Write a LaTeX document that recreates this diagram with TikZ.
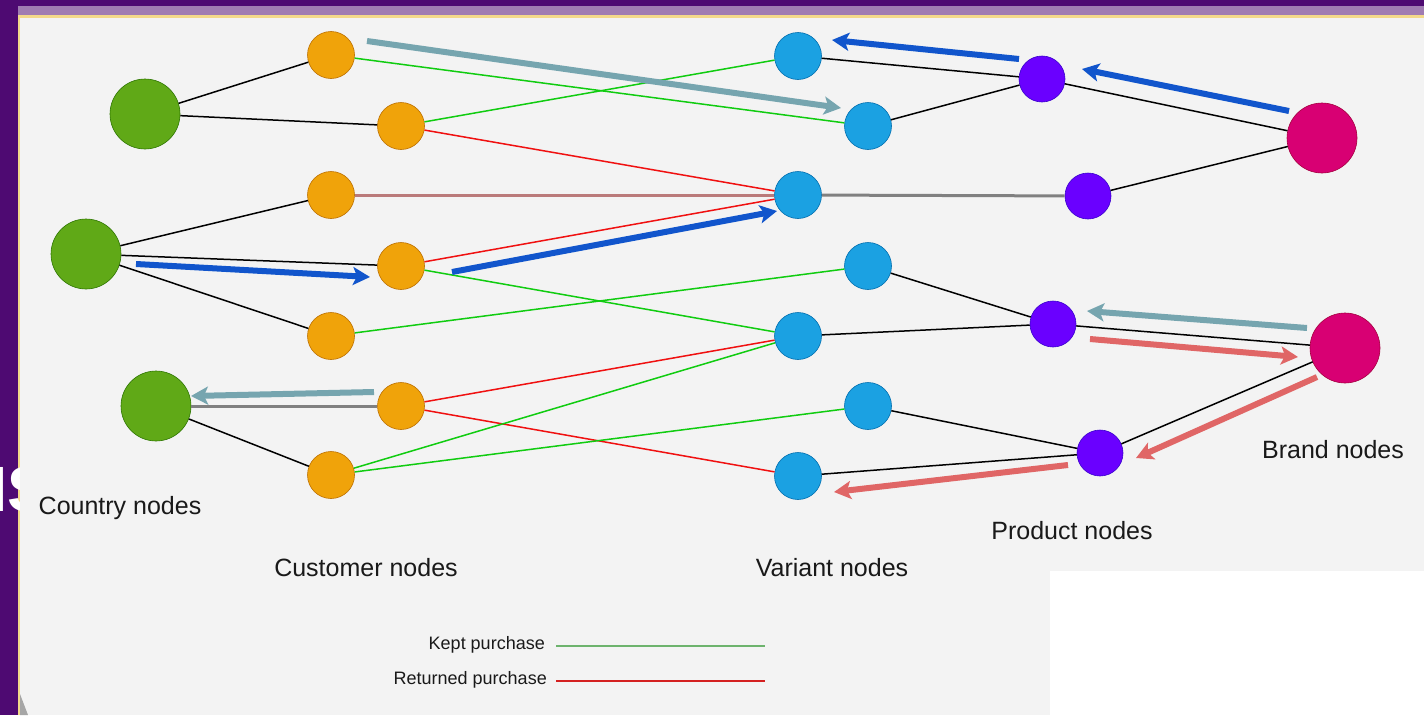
\documentclass[tikz,border=0pt]{standalone}
\usepackage{fontspec}
\setmainfont{Liberation Sans}
\usetikzlibrary{arrows.meta}
\definecolor{framedark}{HTML}{4E0A72}
\definecolor{framelight}{HTML}{A07CB2}
\definecolor{frameyellow}{HTML}{F3D98A}
\definecolor{bggray}{HTML}{F3F3F3}
\definecolor{cgreen}{HTML}{60A917}
\definecolor{cgreenD}{HTML}{2D7600}
\definecolor{corange}{HTML}{F0A30A}
\definecolor{corangeD}{HTML}{BD7000}
\definecolor{cblue}{HTML}{1BA1E2}
\definecolor{cblueD}{HTML}{006EAF}
\definecolor{cpurple}{HTML}{6A00FF}
\definecolor{cpurpleD}{HTML}{3700CC}
\definecolor{cmag}{HTML}{D80073}
\definecolor{cmagD}{HTML}{A50040}
\definecolor{egreen}{HTML}{10CC10}
\definecolor{ered}{HTML}{F01010}
\definecolor{ebrown}{HTML}{BA7A7A}
\definecolor{egray}{HTML}{808080}
\definecolor{aBlue}{HTML}{1155CC}
\definecolor{aTeal}{HTML}{76A5AF}
\definecolor{aSalmon}{HTML}{E06666}
\definecolor{lgreen}{HTML}{6DB36D}
\definecolor{lred}{HTML}{D42020}
\begin{document}
\begin{tikzpicture}[x=1pt,y=-1pt,
  country/.style={circle,inner sep=0pt,minimum size=70pt,fill=cgreen,draw=cgreenD,line width=0.6pt},
  customer/.style={circle,inner sep=0pt,minimum size=47pt,fill=corange,draw=corangeD,line width=0.6pt},
  variant/.style={circle,inner sep=0pt,minimum size=47pt,fill=cblue,draw=cblueD,line width=0.6pt},
  product/.style={circle,inner sep=0pt,minimum size=46pt,fill=cpurple,draw=cpurpleD,line width=0.6pt},
  brand/.style={circle,inner sep=0pt,minimum size=70pt,fill=cmag,draw=cmagD,line width=0.6pt},
  blk/.style={draw=black,line width=1.5pt},
  grn/.style={draw=egreen,line width=1.5pt},
  rd/.style={draw=ered,line width=1.5pt},
  gry/.style={draw=egray,line width=3pt},
  brn/.style={draw=ebrown,line width=3pt},
  arr/.style={line width=6pt,-{Stealth[length=17pt,width=18pt,inset=4pt]}},
  lbl/.style={font=\fontsize{25}{30}\selectfont,text=black!90,inner sep=0pt},
  leg/.style={font=\fontsize{18}{22}\selectfont,text=black!90,inner sep=0pt,anchor=east}
]
\useasboundingbox (0,0) rectangle (1424,715);
% frame
\fill[framedark] (0,0) rectangle (1424,715);
\fill[framelight] (18,6) rectangle (1424,15);
\fill[frameyellow] (18,15) rectangle (1424,18);
\fill[frameyellow] (18,15) rectangle (20,715);
\fill[bggray] (20,18) rectangle (1424,715);
\fill[black!35] (20,694) -- (28,715) -- (20,715) -- cycle;
\fill[white] (1050,571) rectangle (1424,715);
\begin{scope}
\clip (0,0) rectangle (19,715);
\node[anchor=base west,inner sep=0pt,text=white,font=\fontsize{64}{70}\selectfont\bfseries] (ns) at (-39,511) {NS};
\end{scope}

% nodes
\node[country] (C1) at (145,114) {};
\node[country] (C2) at (86,254) {};
\node[country] (C3) at (156,406) {};
\node[customer] (U1) at (331,55) {};
\node[customer] (U2) at (401,126) {};
\node[customer] (U3) at (331,195) {};
\node[customer] (U4) at (401,266) {};
\node[customer] (U5) at (331,336) {};
\node[customer] (U6) at (401,406) {};
\node[customer] (U7) at (331,475) {};
\node[variant] (V1) at (798,56) {};
\node[variant] (V2) at (868,126) {};
\node[variant] (V3) at (798,195) {};
\node[variant] (V4) at (868,266) {};
\node[variant] (V5) at (798,336) {};
\node[variant] (V6) at (868,406) {};
\node[variant] (V7) at (798,476) {};
\node[product] (P1) at (1042,79) {};
\node[product] (P2) at (1088,196) {};
\node[product] (P3) at (1053,324) {};
\node[product] (P4) at (1100,453) {};
\node[brand] (B1) at (1322,138) {};
\node[brand] (B2) at (1345,348) {};

% edges
\path[blk] (C1) -- (U1);
\path[blk] (C1) -- (U2);
\path[blk] (C2) -- (U3);
\path[blk] (C2) -- (U4);
\path[blk] (C2) -- (U5);
\path[gry] (C3) -- (U6);
\path[blk] (C3) -- (U7);
\path[grn] (U1) -- (V2);
\path[grn] (U2) -- (V1);
\path[rd] (U2) -- (V3);
\path[brn] (U3) -- (V3);
\path[rd] (U4) -- (V3);
\path[grn] (U4) -- (V5);
\path[grn] (U5) -- (V4);
\path[rd] (U6) -- (V5);
\path[rd] (U6) -- (V7);
\path[grn] (U7) -- (V5);
\path[grn] (U7) -- (V6);
\path[blk] (V1) -- (P1);
\path[blk] (V2) -- (P1);
\path[gry] (V3) -- (P2);
\path[blk] (V4) -- (P3);
\path[blk] (V5) -- (P3);
\path[blk] (V6) -- (P4);
\path[blk] (V7) -- (P4);
\path[blk] (P1) -- (B1);
\path[blk] (P2) -- (B1);
\path[blk] (P3) -- (B2);
\path[blk] (P4) -- (B2);

% flow arrows
\coordinate (a1s) at (367,41);   \coordinate (a1e) at (841,108);
\coordinate (a2s) at (1019,59);  \coordinate (a2e) at (832,40);
\coordinate (a3s) at (1289,111); \coordinate (a3e) at (1082,69);
\coordinate (a4s) at (136,264);  \coordinate (a4e) at (370,277);
\coordinate (a5s) at (452,272);  \coordinate (a5e) at (777,211);
\coordinate (a6s) at (374,392);  \coordinate (a6e) at (191,396);
\coordinate (a7s) at (1307,328); \coordinate (a7e) at (1087,311);
\coordinate (a8s) at (1090,339); \coordinate (a8e) at (1298,357);
\coordinate (a9s) at (1317,377); \coordinate (a9e) at (1136,458);
\coordinate (a10s) at (1068,465); \coordinate (a10e) at (834,492);
\draw[arr,aTeal] (a1s) -- (a1e);
\draw[arr,aBlue] (a2s) -- (a2e);
\draw[arr,aBlue] (a3s) -- (a3e);
\draw[arr,aBlue] (a4s) -- (a4e);
\draw[arr,aBlue] (a5s) -- (a5e);
\draw[arr,aTeal] (a6s) -- (a6e);
\draw[arr,aTeal] (a7s) -- (a7e);
\draw[arr,aSalmon] (a8s) -- (a8e);
\draw[arr,aSalmon] (a9s) -- (a9e);
\draw[arr,aSalmon] (a10s) -- (a10e);

% labels
\node[lbl] (lc) at (120,508) {Country nodes};
\node[lbl] (lu) at (366,568) {Customer nodes};
\node[lbl] (lv) at (832,568) {Variant nodes};
\node[lbl] (lp) at (1072,531) {Product nodes};
\node[lbl] (lb) at (1333,450) {Brand nodes};

% legend
\node[leg] (k) at (545,645) {Kept purchase};
\node[leg] (r) at (547,680) {Returned purchase};
\coordinate (kl1) at (556,646); \coordinate (kl2) at (765,646);
\coordinate (rl1) at (556,681); \coordinate (rl2) at (765,681);
\draw[lgreen,line width=2.5pt] (kl1) -- (kl2);
\draw[lred,line width=2.5pt] (rl1) -- (rl2);
\end{tikzpicture}
\end{document}
